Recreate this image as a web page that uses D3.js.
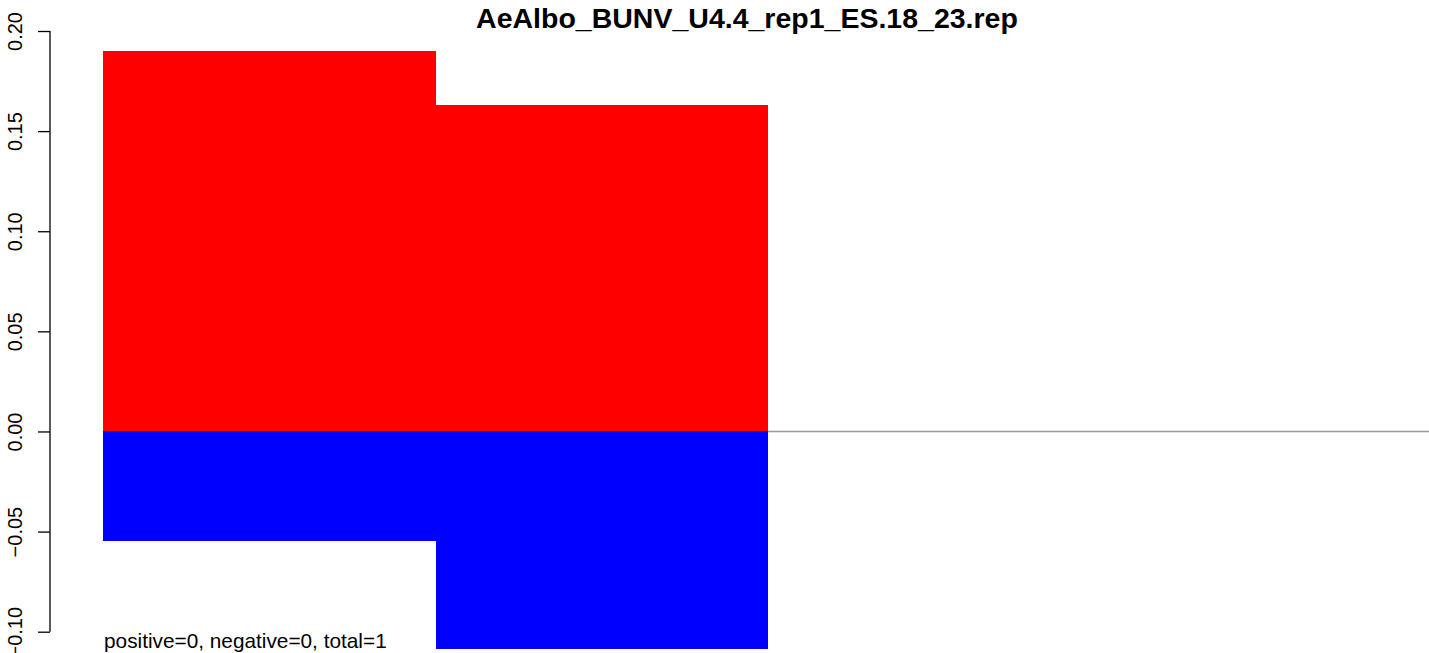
<!DOCTYPE html>
<html>
<head>
<meta charset="utf-8">
<script src="https://cdn.jsdelivr.net/npm/d3@7"></script>
<style>
  html, body { margin: 0; padding: 0; background: #fff; }
  svg { display: block; font-family: "Liberation Sans", Arial, Helvetica, sans-serif; }
</style>
</head>
<body>
<svg id="chart" width="1429" height="653"></svg>
<script>
// Data
const bins = [0, 1, 2, 3];
const positiveValues = [0.19, 0.163, 0, 0];
const negativeValues = [-0.0545, -0.1084, 0, 0];
const yTicks = [-0.10, -0.05, 0.00, 0.05, 0.10, 0.15, 0.20];
const titleText = "AeAlbo_BUNV_U4.4_rep1_ES.18_23.rep";
const noteText = "positive=0, negative=0, total=1";

const svg = d3.select("#chart");

const x = d3.scaleLinear().domain([0, 4]).range([103, 1433]);
const y = d3.scaleLinear().domain([-0.10, 0.20]).range([631.7, 31]);

// baseline
svg.append("line")
  .attr("x1", x(0)).attr("x2", 1429)
  .attr("y1", y(0)).attr("y2", y(0))
  .attr("stroke", "#9a9a9a").attr("stroke-width", 1.5);

// positive bars
svg.append("g").selectAll("rect").data(bins).join("rect")
  .attr("x", d => x(d))
  .attr("width", d => x(d + 1) - x(d))
  .attr("y", (d, i) => y(positiveValues[i]))
  .attr("height", (d, i) => y(0) - y(positiveValues[i]))
  .attr("fill", "#ff0000")
  .attr("shape-rendering", "crispEdges");

// negative bars
svg.append("g").selectAll("rect").data(bins).join("rect")
  .attr("x", d => x(d))
  .attr("width", d => x(d + 1) - x(d))
  .attr("y", y(0))
  .attr("height", (d, i) => y(negativeValues[i]) - y(0))
  .attr("fill", "#0000ff")
  .attr("shape-rendering", "crispEdges");

// y axis
const axis = d3.axisLeft(y).tickValues(yTicks).tickSize(12)
  .tickFormat(d => d3.format(".2f")(d).replace("-", "\u2212"));
const gy = svg.append("g").attr("transform", "translate(50,0)").call(axis);
gy.select(".domain").attr("d", `M0,${y(-0.10)}V${y(0.20)}`).attr("stroke", "#000").attr("stroke-width", 1.3);
gy.selectAll(".tick line").attr("stroke", "#000").attr("stroke-width", 1.3);
gy.selectAll(".tick text")
  .attr("x", null).attr("dy", null)
  .attr("transform", "translate(-28,0) rotate(-90)")
  .attr("text-anchor", "middle")
  .attr("font-size", 20)
  .attr("font-family", "Liberation Sans, Arial, sans-serif")
  .attr("fill", "#000");

// title
svg.append("text")
  .attr("x", 747).attr("y", 28)
  .attr("text-anchor", "middle")
  .attr("font-weight", "bold")
  .attr("font-size", 28.5)
  .text(titleText);

// note
svg.append("text")
  .attr("x", 104).attr("y", 648)
  .attr("font-size", 20.8)
  .text(noteText);
</script>
</body>
</html>
